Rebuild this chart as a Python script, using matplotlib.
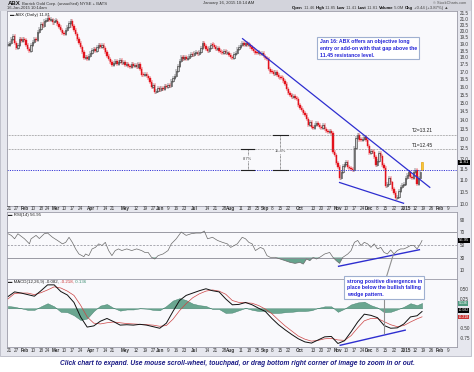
import numpy as np
import pandas as pd
import matplotlib
matplotlib.use('Agg')
import matplotlib.pyplot as plt
import matplotlib.transforms as mtrans
from matplotlib.patches import Rectangle
from matplotlib.lines import Line2D
from matplotlib.ticker import NullLocator, NullFormatter

plt.rcParams['font.family'] = ['Liberation Sans', 'DejaVu Sans']

# ---- daily closes (ABX, Jan 17 2014 - Jan 16 2015) ----
jan14 = [18.95, 19.10, 19.35, 19.60, 19.05, 18.70, 18.95, 19.35, 19.20, 19.40]
feb14 = [19.30, 18.95, 18.60, 18.45, 18.90, 19.15, 19.40, 19.30, 19.95, 20.20,
         20.55, 20.40, 20.85, 20.95, 21.05, 20.90, 20.95, 20.70, 20.80]
mar14 = [20.85, 20.55, 20.35, 20.10, 19.85, 19.80, 20.05, 20.30, 20.65, 20.85,
         20.40, 20.10, 19.75, 19.40, 19.10, 18.80, 18.40, 17.95, 18.05, 17.90, 18.10]
apr14 = [18.30, 18.55, 18.65, 18.50, 18.80, 18.90, 18.75, 18.95, 18.70, 18.40,
         18.10, 17.90, 17.70, 17.45, 17.60, 17.75, 17.55, 17.70, 17.80, 17.60, 17.70]
may14 = [17.45, 17.55, 17.40, 17.35, 17.50, 17.40, 17.45, 17.35, 17.55, 17.20,
         16.80, 16.75, 16.85, 16.70, 16.55, 16.30, 16.00, 16.10, 15.65, 15.75, 15.90]
jun14 = [15.80, 15.95, 15.85, 16.05, 16.00, 16.10, 16.05, 16.35, 16.55, 16.70,
         17.05, 17.40, 17.75, 18.05, 17.90, 18.00, 17.85, 17.95, 18.10, 18.25, 18.20]
jul14 = [18.30, 18.35, 18.25, 18.40, 18.70, 19.05, 18.85, 18.60, 18.45, 18.70,
         18.95, 18.90, 18.80, 18.65, 18.70, 18.50, 18.40, 18.35, 18.45, 18.30, 18.35, 18.15]
aug14 = [18.05, 17.95, 18.25, 18.35, 18.60, 18.75, 18.95, 19.10, 18.95, 19.05,
         18.90, 18.95, 18.75, 18.60, 18.50, 18.35, 18.30, 18.35, 18.25, 18.30, 18.10]
sep14 = [17.95, 17.85, 17.15, 17.00, 16.95, 16.85, 16.95, 16.75, 16.65, 16.60,
         16.55, 16.40, 16.20, 15.85, 15.60, 15.45, 15.35, 15.40, 15.30, 15.25, 14.90]
oct14 = [14.70, 14.55, 14.40, 14.30, 14.05, 13.75, 13.90, 13.60, 13.55, 13.70,
         13.85, 13.75, 13.60, 13.55, 13.70, 13.50, 13.40, 13.35, 13.40, 13.30,
         12.30, 12.15, 11.80]
nov14 = [11.60, 11.10, 11.35, 11.65, 11.75, 11.85, 11.60, 11.55, 11.50, 11.45,
         12.50, 13.05, 13.20, 12.95, 12.90, 13.00, 13.10, 12.95, 12.60]
dec14 = [12.25, 12.35, 12.30, 12.05, 11.70, 11.90, 12.25, 12.10, 11.70, 11.55,
         10.75, 10.85, 11.10, 10.90, 10.60, 10.45, 10.25, 10.30, 10.55, 10.70, 10.80, 10.85]
jan15 = [11.10, 11.25, 11.35, 11.15, 11.10, 11.35, 11.45, 10.85, 11.10, 11.37, 11.81]
closes = np.array(jan14 + feb14 + mar14 + apr14 + may14 + jun14 + jul14 +
                  aug14 + sep14 + oct14 + nov14 + dec14 + jan15)
last_open, last_high, last_low = 11.46, 11.85, 11.41

# RSI(14) (trading-day index, value)
rsi_days = [0, 2, 4, 6, 10, 13, 14, 17, 19, 22, 24, 27, 30, 33, 35, 37, 39, 41, 43, 46,
            47, 49, 51, 53, 55, 57, 59, 61, 63, 65, 67, 69, 72, 75, 78, 81, 83, 85, 87, 89,
            91, 94, 97, 99, 102, 105, 108, 111, 114, 117, 119, 121, 124, 127, 130, 133, 135,
            139, 142, 144, 146, 148, 150, 153, 155, 157, 159, 162, 165, 168, 171, 174, 177,
            179, 181, 183, 185, 187, 189, 192, 195, 197, 199, 201, 203, 206, 208, 210, 212,
            214, 216, 218, 220, 222, 224, 226, 228, 230, 232, 234, 236, 238, 240, 242, 244,
            246, 248, 250, 251]
rsi_vals = [67.6, 65.0, 59.6, 67.6, 59.6, 51.6, 59.6, 65.0, 60.0, 67.6, 68.7, 62.0, 57.0,
            51.6, 54.0, 62.0, 54.0, 43.6, 35.6, 31.3, 35.6, 33.0, 43.6, 46.0, 51.6, 49.0,
            54.0, 41.0, 33.0, 41.0, 43.6, 41.0, 43.6, 41.0, 43.6, 41.0, 38.0, 38.0, 30.3,
            27.6, 33.0, 35.6, 41.0, 51.6, 59.6, 70.3, 65.0, 67.6, 68.7, 68.7, 71.9, 59.6,
            62.0, 57.0, 54.0, 51.6, 46.0, 51.6, 62.0, 59.6, 54.0, 51.6, 41.0, 46.0, 43.6,
            33.0, 30.3, 30.3, 27.6, 25.0, 22.3, 20.7, 22.3, 19.6, 27.6, 25.0, 30.3, 27.6,
            30.3, 35.6, 38.0, 30.3, 25.0, 20.7, 30.3, 35.6, 41.0, 54.0, 57.0, 49.0, 54.0,
            51.6, 46.0, 51.6, 43.6, 46.0, 38.0, 35.6, 42.0, 35.6, 41.0, 43.6, 43.6, 46.0,
            49.0, 49.0, 43.6, 51.6, 56.95]

# MACD(12,26,9) line and signal
macd_days = list(range(0, 252, 4)) + [251]
macd_vals = [0.30, 0.42, 0.39, 0.35, 0.31, 0.45, 0.60, 0.60, 0.43, 0.34, 0.15, -0.22,
             -0.48, -0.45, -0.33, -0.26, -0.34, -0.43, -0.42, -0.43, -0.41, -0.43, -0.47,
             -0.51, -0.38, -0.08, 0.20, 0.33, 0.39, 0.45, 0.50, 0.45, 0.42, 0.24, 0.09,
             0.10, 0.15, 0.09, 0.00, -0.08, -0.26, -0.42, -0.55, -0.67, -0.78, -0.86,
             -0.89, -0.81, -0.73, -0.72, -0.90, -0.83, -0.60, -0.35, -0.15, -0.18, -0.24,
             -0.44, -0.51, -0.50, -0.40, -0.22, -0.19, -0.082]
signal_vals = [0.24, 0.38, 0.39, 0.39, 0.35, 0.40, 0.47, 0.55, 0.52, 0.44, 0.33, 0.08,
               -0.22, -0.38, -0.40, -0.37, -0.35, -0.37, -0.39, -0.40, -0.41, -0.42, -0.43,
               -0.46, -0.44, -0.28, -0.06, 0.12, 0.27, 0.37, 0.44, 0.47, 0.44, 0.36, 0.20,
               0.15, 0.14, 0.13, 0.07, -0.02, -0.14, -0.30, -0.45, -0.58, -0.71, -0.79,
               -0.84, -0.82, -0.78, -0.77, -0.81, -0.82, -0.70, -0.50, -0.32, -0.26, -0.26,
               -0.34, -0.42, -0.47, -0.44, -0.35, -0.27, -0.218]

support = 11.45
targets = [12.45, 13.21]
target_names = ['T1=12.45', 'T2=13.21']

holidays = ['2014-01-20', '2014-02-17', '2014-04-18', '2014-05-26', '2014-07-04',
            '2014-09-01', '2014-11-27', '2014-12-25', '2015-01-01']
days = pd.bdate_range('2014-01-17', '2015-01-16', freq='C', holidays=holidays)
future = pd.bdate_range('2015-01-19', '2015-02-13')
all_days = days.append(future)

W, H = 474, 372


def rect(x0, y0, x1, y1):
    return [x0 / W, 1 - y1 / H, (x1 - x0) / W, (y1 - y0) / H]


def fx(x):
    return x / W


def fy(y):
    return 1 - y / H


fig = plt.figure(figsize=(W / 100, H / 100), dpi=100)
fig.patches.append(Rectangle((0, fy(356)), fx(471), 356 / H, transform=fig.transFigure,
                             facecolor='#e6e7ee', edgecolor='#b8b9c4', lw=0.6, zorder=-10))
fig.patches.append(Rectangle((0, fy(10.5)), fx(471), 10.5 / H, transform=fig.transFigure,
                             facecolor='#d3d4dc', edgecolor='none', zorder=-9))

axp = fig.add_axes(rect(7, 10.5, 457, 206))
axr = fig.add_axes(rect(7, 212, 457, 279))
axm = fig.add_axes(rect(7, 279, 457, 347))
for a in (axp, axr, axm):
    a.set_facecolor('#f9f9fc')
    a.set_xlim(-0.6, 272.2)
    a.set_xticks([])
    a.yaxis.tick_right()
    a.tick_params(axis='y', length=0, pad=2, labelsize=3.3, colors='#333333')
    for s in a.spines.values():
        s.set_color('#9a9aa6')
        s.set_linewidth(0.6)

# ---- price panel ----
idx = np.arange(len(closes))
opens = np.r_[closes[0], closes[:-1]]
opens[-1] = last_open
lo = np.minimum(opens, closes)
hi = np.maximum(np.maximum(opens, closes), lo * 1.004)
up = closes >= opens
dn = ~up
up[-1] = False
wick_lo = lo * 0.992
wick_hi = hi * 1.008
wick_lo[-1], wick_hi[-1] = last_low, last_high
wick_col = np.where(up, '#333333', '#e3121c')
wick_col[-1] = '#e09a00'
axp.vlines(idx, wick_lo, wick_hi, colors=wick_col, lw=0.35)
axp.bar(idx[dn], (hi - lo)[dn], bottom=lo[dn], width=0.8, color='#e3121c',
        edgecolor='#e3121c', lw=0.3)
axp.bar(idx[up], (hi - lo)[up], bottom=lo[up], width=0.8, color='white',
        edgecolor='#222222', lw=0.4)
axp.bar(idx[-1], closes[-1] - last_open, bottom=last_open, width=1.0, color='#ffd54a',
        edgecolor='#e09a00', lw=0.4)

axp.set_yscale('log')
axp.set_ylim(9.92, 21.72)
pt = np.arange(10.0, 21.51, 0.5)
axp.set_yticks(pt)
axp.set_yticklabels([f'{t:.1f}' for t in pt])
axp.yaxis.set_minor_locator(NullLocator())
axp.yaxis.set_minor_formatter(NullFormatter())

axp.axhline(support, color='#3a3ad8', lw=0.7, ls=(0, (1.2, 1.2)))
for t, name in zip(targets, target_names):
    axp.axhline(t, color='#666666', lw=0.5, ls=(0, (1, 1.2)))
    axp.text(251, t * 1.006, name, ha='center', va='bottom', fontsize=3.6, color='#222222')

# falling wedge
axp.plot([142.2, 255.7], [19.40, 10.69], color='#2e2ed0', lw=0.9)
axp.plot([201.0, 239.8], [10.90, 10.03], color='#2e2ed0', lw=0.9)

# measured moves
for xb, top, half, lab in [(145.4, targets[0], 4.0, '8.7%'), (165.0, targets[1], 4.5, '15.4%')]:
    axp.plot([xb, xb], [support, top], color='#333333', lw=0.5, ls=(0, (1, 1)))
    axp.plot([xb - half, xb + half], [top, top], color='#222222', lw=0.8)
    axp.plot([xb - half, xb + half], [support, support], color='#222222', lw=0.8)
    axp.text(xb, np.sqrt(top * support) * 1.004, lab, ha='center', va='center', fontsize=2.9,
             color='#444444', bbox=dict(facecolor='#f9f9fc', edgecolor='none', pad=0.2))

axp.text(0.007, 0.988, '▬ ABX (Daily) 11.81', transform=axp.transAxes, ha='left', va='top',
         fontsize=3.2, color='#222222')
axp.text(1.004, np.log10(11.81 / 9.92) / np.log10(21.72 / 9.92), '11.81',
         transform=axp.transAxes, ha='left', va='center', fontsize=3.1, color='white',
         bbox=dict(facecolor='black', edgecolor='none', pad=0.5))

# ---- RSI panel ----
axr.set_ylim(-4, 102)
axr.set_yticks([90, 70, 50, 30, 10])
axr.axhline(70, color='#8a8a94', lw=0.6)
axr.axhline(30, color='#8a8a94', lw=0.6)
axr.axhline(50, color='#8a8a94', lw=0.5, ls=(0, (3, 2)))
rd = np.array(rsi_days)
rv = np.array(rsi_vals)
axr.fill_between(rd, rv, 30, where=rv < 30, interpolate=True, color='#66a38d', lw=0)
axr.plot(rd, rv, color='#6a6a6a', lw=0.5)
axr.plot([200.4, 249.4], [16.1, 42.3], color='#2e2ed0', lw=1.0)
axr.text(0.003, 0.985, '▬ RSI(14) 56.95', transform=axr.transAxes, ha='left', va='top',
         fontsize=3.2, color='#222222')
axr.text(1.004, (56.95 + 4) / 106, '56.95', transform=axr.transAxes, ha='left', va='center',
         fontsize=3.0, color='white', bbox=dict(facecolor='black', edgecolor='none', pad=0.4))

# ---- MACD panel ----
axm.set_ylim(-0.99, 0.75)
axm.set_yticks([0.5, 0.25, -0.5, -0.75])
axm.set_yticklabels(['0.50', '0.25', '-0.50', '-0.75'])
md = np.array(macd_days)
mv = np.array(macd_vals)
sv = np.array(signal_vals)
hist = mv - sv
axm.fill_between(md, hist, 0, color='#6aa690', edgecolor='#3f7d69', lw=0.3)
axm.plot(md, sv, color='#cc4444', lw=0.5)
axm.plot(md, mv, color='#111111', lw=0.7)
axm.plot([201.4, 240.8], [-0.946, -0.559], color='#2e2ed0', lw=1.0)

t0 = axm.text(0.003, 0.985, '▬ MACD(12,26,9) -0.082,', transform=axm.transAxes, ha='left',
              va='top', fontsize=3.2, color='#222222')
t1 = axm.annotate(' -0.218,', xy=(1, 0), xycoords=t0, va='bottom', ha='left', fontsize=3.2,
                  color='#cc3333')
axm.annotate(' 0.136', xy=(1, 0), xycoords=t1, va='bottom', ha='left', fontsize=3.2,
             color='#3f8f74')
# value tags on the right, at the pixel rows seen in the reference
for val, fc, ypx in [(0.136, '#4f9a80', 303.2), (-0.082, 'black', 310.3), (-0.218, '#cc3333', 317.0)]:
    fig.text(fx(458.5), fy(ypx), f'{val:.3f}', ha='left', va='center', fontsize=2.6,
             color='white', bbox=dict(facecolor=fc, edgecolor='none', pad=0.25))

# ---- date rows ----
month_pos = [i for i in range(1, len(all_days)) if all_days[i].month != all_days[i - 1].month]
date_labels = [(i, '2015' if all_days[i].month == 1 else all_days[i].strftime('%b'), True)
               for i in month_pos]
for i in range(1, len(all_days)):
    if all_days[i].isocalendar()[1] != all_days[i - 1].isocalendar()[1]:
        if min(abs(i - m) for m in month_pos) >= 4:
            date_labels.append((i, str(all_days[i].day), False))

for a, yfrac in [(axp, -2.8 / 195.5), (axm, -3.2 / 68)]:
    tr = mtrans.blended_transform_factory(a.transData, a.transAxes)
    for pos, txt, bold in date_labels:
        a.text(pos, yfrac, txt, transform=tr, ha='center', va='center', fontsize=3.3,
               fontweight='bold' if bold else 'normal', color='#333333', clip_on=False)

# ---- header ----
fig.text(fx(8), fy(3.6), 'ABX', fontsize=4.4, fontweight='bold', color='#1a1a1a',
         va='center', ha='left')
fig.text(fx(22), fy(3.6), 'Barrick Gold Corp. (unaudited) NYSE + BATS', fontsize=3.1,
         color='#333333', va='center', ha='left')
fig.text(fx(7), fy(8.4), '16-Jan-2015 10:14am', fontsize=3.0, color='#333333', va='center',
         ha='left')
fig.text(fx(229), fy(3.4), 'January 16, 2015 10:14 AM', fontsize=3.1, color='#333333',
         va='center', ha='center')
fig.text(fx(466), fy(3.0), '© StockCharts.com', fontsize=2.8, color='#555555', va='center',
         ha='right')
pieces = [('Open', True), (' 11.46 ', False), ('High', True), (' 11.85 ', False),
          ('Low', True), (' 11.41 ', False), ('Last', True), (' 11.81 ', False),
          ('Volume', True), (' 5.0M ', False), ('Chg', True), (' +0.44 (+3.87%) ▲', False)]
prev = fig.text(fx(292), fy(8.3), '', fontsize=3.1, va='center', ha='left')
for s, b in pieces:
    prev = axp.annotate(s, xy=(1, 0.5), xycoords=prev, va='center', ha='left',
                        fontsize=3.1, fontweight='bold' if b else 'normal',
                        color='#111111' if b else '#444444', annotation_clip=False)

# ---- comment boxes ----
fig.patches.append(Rectangle((fx(317), fy(59)), fx(102), 22 / H, transform=fig.transFigure,
                             facecolor='white', edgecolor='#9fb0d0', lw=0.8, zorder=10))
fig.text(fx(320), fy(39.5), 'Jan 16: ABX offers an objective long\n'
         'entry or add-on with that gap above the\n11.45 resistance level.',
         fontsize=3.7, fontweight='bold', color='#2323d8', va='top', ha='left',
         linespacing=1.45, zorder=11)

fig.patches.append(Rectangle((fx(344), fy(299)), fx(80), 23 / H, transform=fig.transFigure,
                             facecolor='white', edgecolor='#9fb0d0', lw=0.8, zorder=10))
fig.text(fx(347), fy(278.5), 'strong positive divergences in\n'
         'place below the bullish falling\nwedge pattern.',
         fontsize=3.7, fontweight='bold', color='#2323d8', va='top', ha='left',
         linespacing=1.45, zorder=11)
fig.lines.append(Line2D([fx(384), fx(384)], [fy(299), fy(333)], transform=fig.transFigure,
                        color='#909090', lw=0.8, zorder=9))
fig.lines.append(Line2D([fx(386.7), fx(393.3)], [fy(276), fy(254.7)], transform=fig.transFigure,
                        color='#909090', lw=0.8, zorder=9))

fig.text(0.5, fy(363.5), 'Click chart to expand. Use mouse scroll-wheel, touchpad, or drag '
         'bottom right corner of image to zoom in or out.', fontsize=4.75, fontweight='bold',
         fontstyle='italic', color='#1b1b86', ha='center', va='center')

fig.savefig('out.png', dpi=100)
